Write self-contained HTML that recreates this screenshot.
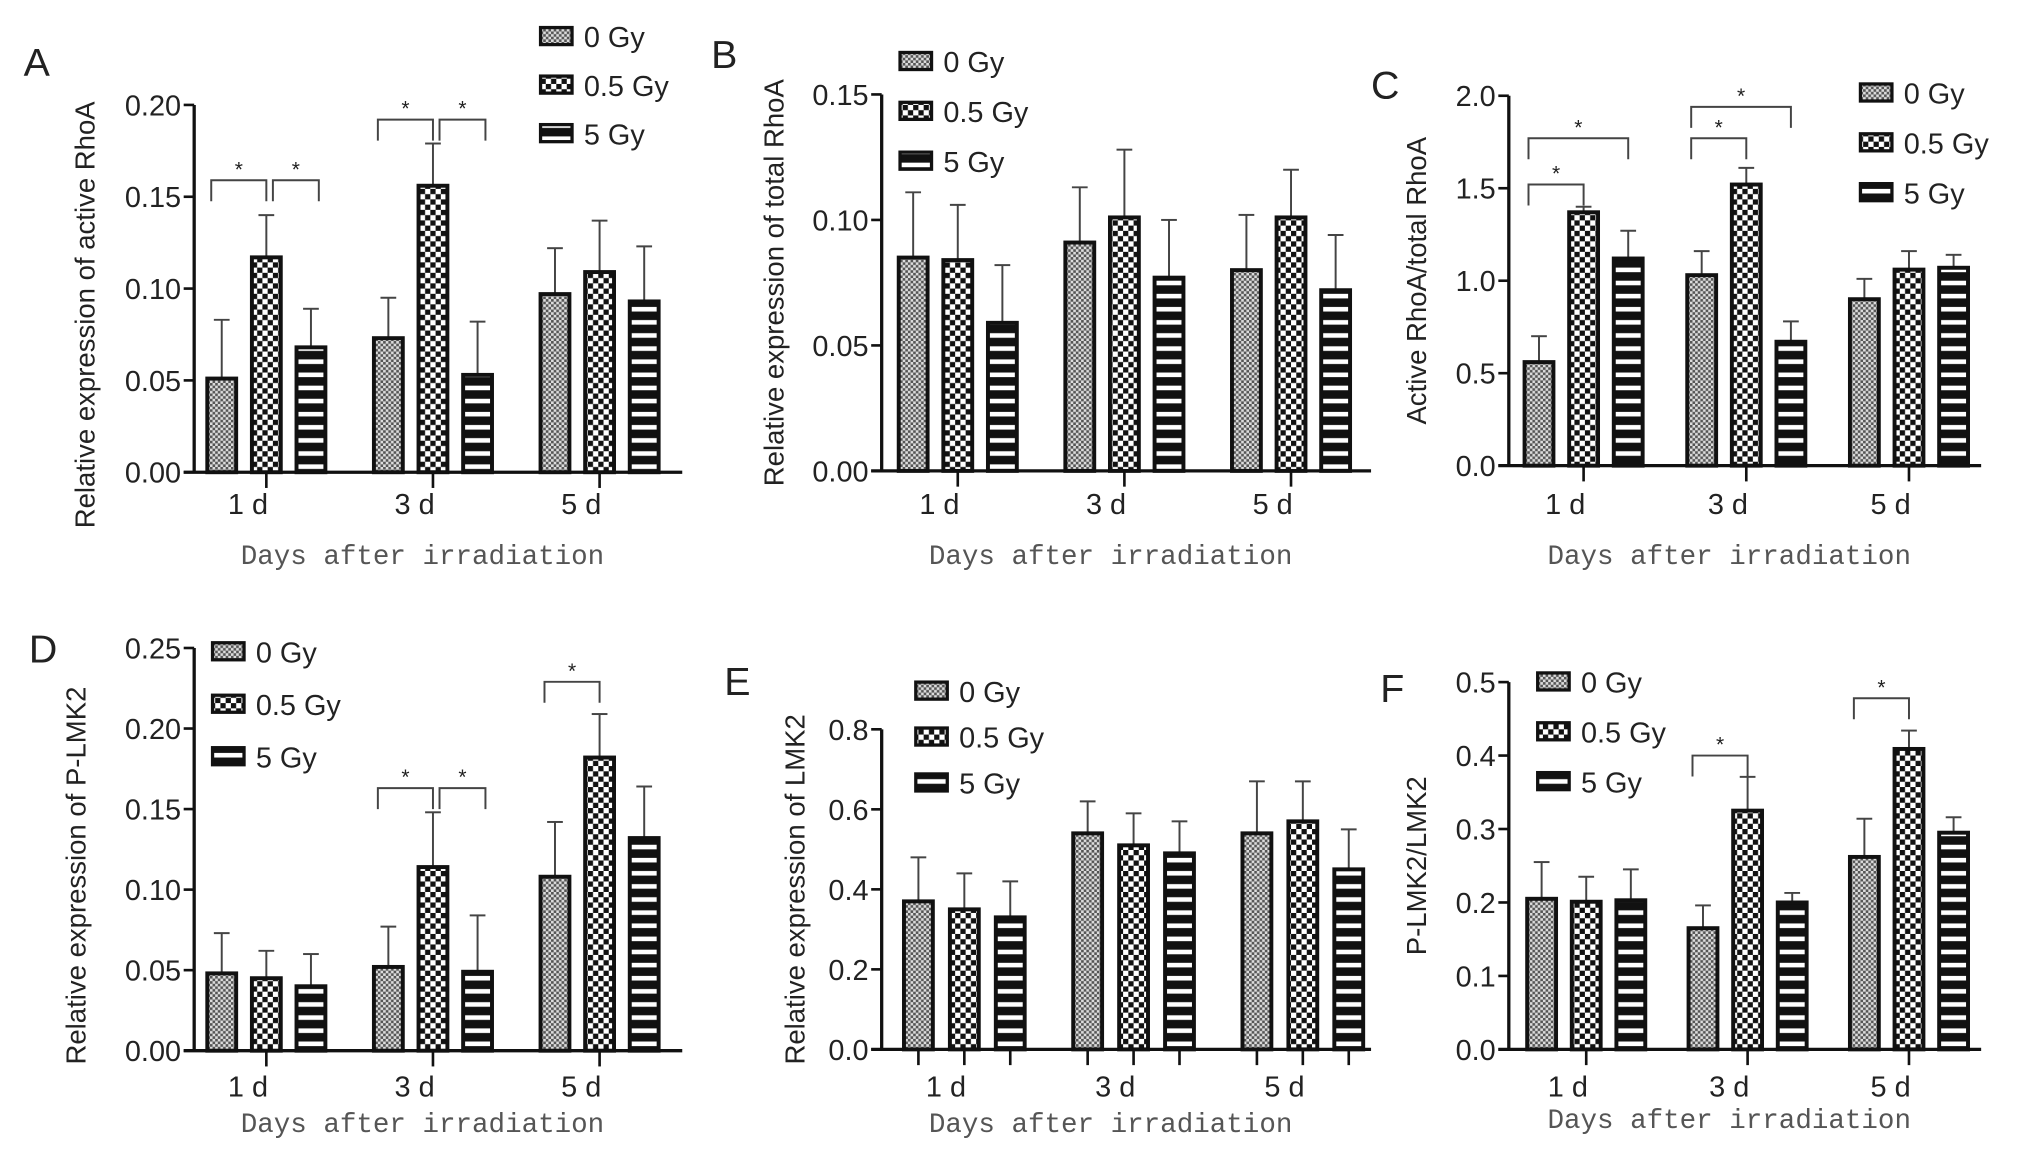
<!DOCTYPE html>
<html><head><meta charset="utf-8"><style>
html,body{margin:0;padding:0;background:#fff;}
svg{display:block;}
text{font-family:"Liberation Sans",Arial,sans-serif;fill:#222;}
.mono{font-family:"Liberation Mono","DejaVu Sans Mono",monospace;fill:#555;}
</style></head><body>
<svg id="fig" width="2031" height="1174" viewBox="0 0 1548 895" preserveAspectRatio="none" xmlns="http://www.w3.org/2000/svg">
<defs>
<pattern id="p0" width="4" height="4" patternUnits="userSpaceOnUse"><rect width="4" height="4" fill="#ddd"/><rect width="2" height="2" fill="#555"/><rect x="2" y="2" width="2" height="2" fill="#555"/></pattern>
<pattern id="p1" width="8" height="8" patternUnits="userSpaceOnUse"><rect width="8" height="8" fill="#fff"/><rect width="4" height="4" fill="#111"/><rect x="4" y="4" width="4" height="4" fill="#111"/></pattern>
<pattern id="p2" width="10" height="10" patternUnits="userSpaceOnUse"><rect width="10" height="10" fill="#111"/><rect y="4" width="10" height="3.5" fill="#fff"/></pattern>
</defs>
</svg>
<script>
const categories = ["1 d","3 d","5 d"];
const seriesNames = ["0 Gy","0.5 Gy","5 Gy"];
const A_0Gy=[0.051,0.073,0.097], A_05Gy=[0.117,0.156,0.109], A_5Gy=[0.068,0.053,0.093];
const A_err0=[0.032,0.022,0.025], A_err05=[0.023,0.023,0.028], A_err5=[0.021,0.029,0.030];
const A_ticks=["0.00","0.05","0.10","0.15","0.20"];
const B_0Gy=[0.085,0.091,0.080], B_05Gy=[0.084,0.101,0.101], B_5Gy=[0.059,0.077,0.072];
const B_err0=[0.026,0.022,0.022], B_err05=[0.022,0.027,0.019], B_err5=[0.023,0.023,0.022];
const B_ticks=["0.00","0.05","0.10","0.15"];
const C_0Gy=[0.56,1.03,0.90], C_05Gy=[1.37,1.52,1.06], C_5Gy=[1.12,0.67,1.07];
const C_err0=[0.14,0.13,0.11], C_err05=[0.03,0.09,0.10], C_err5=[0.15,0.11,0.07];
const C_ticks=["0.0","0.5","1.0","1.5","2.0"];
const D_0Gy=[0.048,0.052,0.108], D_05Gy=[0.045,0.114,0.182], D_5Gy=[0.040,0.049,0.132];
const D_err0=[0.025,0.025,0.034], D_err05=[0.017,0.034,0.027], D_err5=[0.020,0.035,0.032];
const D_ticks=["0.00","0.05","0.10","0.15","0.20","0.25"];
const E_0Gy=[0.37,0.54,0.54], E_05Gy=[0.35,0.51,0.57], E_5Gy=[0.33,0.49,0.45];
const E_err0=[0.11,0.08,0.13], E_err05=[0.09,0.08,0.10], E_err5=[0.09,0.08,0.10];
const E_ticks=["0.0","0.2","0.4","0.6","0.8"];
const F_0Gy=[0.205,0.165,0.262], F_05Gy=[0.201,0.325,0.409], F_5Gy=[0.203,0.200,0.295];
const F_err0=[0.050,0.031,0.052], F_err05=[0.034,0.046,0.025], F_err5=[0.042,0.013,0.021];
const F_ticks=["0.0","0.1","0.2","0.3","0.4","0.5"];

const NS="http://www.w3.org/2000/svg";
const svg=document.getElementById('fig');
function mk(tag,attrs,parent){const e=document.createElementNS(NS,tag);for(const k in attrs)e.setAttribute(k,attrs[k]);(parent||svg).appendChild(e);return e;}

const panels=[
 {id:'a',letter:'A',lx:18,ly:58,ax:148,top:80,bot:360,xend:520,max:0.20,ticks:A_ticks,vals:[A_0Gy,A_05Gy,A_5Gy],errs:[A_err0,A_err05,A_err5],g0:158,gstep:127,bw:22,bstep:34,ytitle:'Relative expression of active RhoA',ytx:72,leg:[412,28,37],labY:392,titleY:430,
  sig:[[0,0,1,0.159],[0,1,2,0.159],[1,0,1,0.192],[1,1,2,0.192]]},
 {id:'b',letter:'B',lx:542,ly:52,ax:672,top:72,bot:359,xend:1045,max:0.15,ticks:B_ticks,vals:[B_0Gy,B_05Gy,B_5Gy],errs:[B_err0,B_err05,B_err5],g0:685,gstep:127,bw:22,bstep:34,ytitle:'Relative expression of total RhoA',ytx:597,leg:[686,47,38],labY:392,titleY:430,sig:[]},
 {id:'c',letter:'C',lx:1045,ly:75,ax:1150,top:73,bot:355,xend:1510,max:2.0,ticks:C_ticks,vals:[C_0Gy,C_05Gy,C_5Gy],errs:[C_err0,C_err05,C_err5],g0:1162,gstep:124,bw:22,bstep:34,ytitle:'Active RhoA/total RhoA',ytx:1087,leg:[1418,71,38],labY:392,titleY:430,
  sig:[[0,0,1,1.52],[0,0,2,1.77],[1,0,1,1.77],[1,0,2,1.94]]},
 {id:'d',letter:'D',lx:22,ly:505,ax:148,top:494,bot:801,xend:520,max:0.25,ticks:D_ticks,vals:[D_0Gy,D_05Gy,D_5Gy],errs:[D_err0,D_err05,D_err5],g0:158,gstep:127,bw:22,bstep:34,ytitle:'Relative expression of P-LMK2',ytx:65,leg:[162,497,40],labY:836,titleY:863,
  sig:[[1,0,1,0.163],[1,1,2,0.163],[2,0,1,0.229]]},
 {id:'e',letter:'E',lx:552,ly:530,ax:672,top:556,bot:800,xend:1045,max:0.8,ticks:E_ticks,vals:[E_0Gy,E_05Gy,E_5Gy],errs:[E_err0,E_err05,E_err5],g0:689,gstep:129,bw:22,bstep:35,ytitle:'Relative expression of LMK2',ytx:613,leg:[698,527,35],labY:836,titleY:863,sig:[],barTicks:true},
 {id:'f',letter:'F',lx:1052,ly:535,ax:1150,top:520,bot:800,xend:1510,max:0.5,ticks:F_ticks,vals:[F_0Gy,F_05Gy,F_5Gy],errs:[F_err0,F_err05,F_err5],g0:1164,gstep:123,bw:22,bstep:34,ytitle:'P-LMK2/LMK2',ytx:1087,leg:[1172,520,38],labY:836,titleY:860,
  sig:[[1,0,1,0.40],[2,0,1,0.478]]}
];

panels.forEach(p=>{
  const g=mk('g',{});
  
  
  const y=v=>p.bot-(v/p.max)*(p.bot-p.top);
  const bx=(c,s)=>p.g0+c*p.gstep+s*p.bstep;
  const lt=mk('text',{x:p.lx,y:p.ly,'font-size':30},g);lt.textContent=p.letter;
  
  
  p.vals.forEach((arr,s)=>{arr.forEach((v,c)=>{
    const x=bx(c,s), top=y(v), et=y(v+p.errs[s][c]);
    const eb=mk('line',{x1:x+p.bw/2,x2:x+p.bw/2,y1:top,y2:et,stroke:'#444','stroke-width':1.5},g);
    
    
    mk('line',{x1:x+p.bw/2-6,x2:x+p.bw/2+6,y1:et,y2:et,stroke:'#444','stroke-width':1.5},g);
    const r=mk('rect',{x:x,y:top,width:p.bw,height:p.bot-top,fill:'url(#p'+s+')',stroke:'#111','stroke-width':3},g);
    
    
    if(p.barTicks){mk('line',{x1:x+p.bw/2,x2:x+p.bw/2,y1:p.bot,y2:p.bot+12,stroke:'#111','stroke-width':2},g);}
  });});
  const ya=mk('line',{x1:p.ax,x2:p.ax,y1:p.top,y2:p.bot,stroke:'#111','stroke-width':2.5},g);
  
  
  const xa=mk('line',{x1:p.ax-8,x2:p.xend,y1:p.bot,y2:p.bot,stroke:'#111','stroke-width':2.5},g);
  
  
  p.ticks.forEach((t,i)=>{
    const v=p.max*i/(p.ticks.length-1), yy=y(v);
    mk('line',{x1:p.ax-8,x2:p.ax,y1:yy,y2:yy,stroke:'#111','stroke-width':2},g);
    const tx=mk('text',{x:p.ax-10,y:yy+8,'font-size':22,'text-anchor':'end'},g);tx.textContent=t;
    
    
  });
  categories.forEach((c,i)=>{
    const cx=bx(i,1)+p.bw/2;
    if(!p.barTicks) mk('line',{x1:cx,x2:cx,y1:p.bot,y2:p.bot+12,stroke:'#111','stroke-width':2},g);
    const tx=mk('text',{x:cx-14,y:p.labY,'font-size':22,'text-anchor':'middle'},g);tx.textContent=c;
    
    
  });
  const xt=mk('text',{x:(p.ax+p.xend)/2-12,y:p.titleY,'font-size':21,'text-anchor':'middle','class':'mono'},g);
  xt.textContent='Days after irradiation';
  
  
  const cy=(p.top+p.bot)/2+(p.id==='a'||p.id==='d'?20:0);
  const yt=mk('text',{x:p.ytx,y:cy,'font-size':21,'text-anchor':'middle',transform:'rotate(-90 '+p.ytx+' '+cy+')'},g);
  yt.textContent=p.ytitle;
  
  
  seriesNames.forEach((n,s)=>{
    const ly=p.leg[1]+s*p.leg[2];
    const sw=mk('rect',{x:p.leg[0],y:ly-7,width:24,height:13,fill:'url(#p'+s+')',stroke:'#111','stroke-width':2.5},g);
    
    
    const lt2=mk('text',{x:p.leg[0]+33,y:ly+8,'font-size':22},g);lt2.textContent=n;
    
    
  });
  p.sig.forEach(sg=>{
    const [c,s1,s2,lv]=sg;
    const x1 = s1===0 ? bx(c,0)+3 : bx(c,s1)+p.bw/2+5;
    const x2 = s1===1 ? bx(c,s2)+p.bw-5 : bx(c,s2)+p.bw/2;
    const yy=y(lv);
    const pl=mk('polyline',{points:`${x1},${yy+16} ${x1},${yy} ${x2},${yy} ${x2},${yy+16}`,fill:'none',stroke:'#444','stroke-width':1.5},g);
    
    
    const st=mk('text',{x:(x1+x2)/2,y:yy-3,'font-size':16,'text-anchor':'middle'},g);st.textContent='*';
    
    
  });
});
</script>
</body></html>
